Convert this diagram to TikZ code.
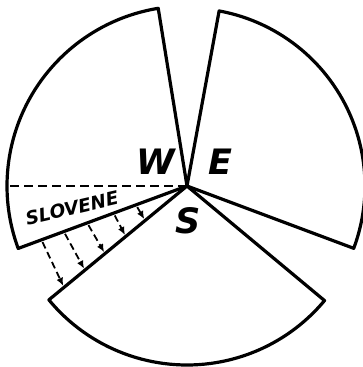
\documentclass[tikz,border=0pt]{standalone}
\usepackage{fontspec}
\setmainfont{DejaVu Sans}
\usetikzlibrary{arrows.meta}
\begin{document}
\begin{tikzpicture}[x=1pt,y=1pt,
  sector/.style={line width=3.2pt, line join=round},
  divider/.style={line width=2pt, dash pattern=on 9pt off 5pt},
  shiftarrow/.style={line width=1.8pt, dash pattern=on 7pt off 4pt, -{Latex[length=8pt,width=7pt]}},
  biglabel/.style={font=\fontsize{35}{35}\selectfont\bfseries\itshape, inner sep=0pt},
  smalllabel/.style={font=\fontsize{18.5}{18.5}\selectfont\bfseries\itshape, inner sep=0pt}]
\useasboundingbox (-187,-181) rectangle (175,186);
\coordinate (O) at (0,0);
% sectors
\draw[sector] (O) -- (99.2:180) arc[start angle=99.2, end angle=200.3, radius=180] -- cycle;
\draw[sector] (O) -- (79.6:178) arc[start angle=79.6, end angle=-20.5, radius=178] -- cycle;
\draw[sector] (O) -- (219.5:179) arc[start angle=219.5, end angle=320.2, radius=179] -- cycle;
% dashed divider
\coordinate (Wl) at (180:179);
\draw[divider] (O) -- (Wl);
% arrows
\foreach \i/\ra/\rb in {1/155/159, 2/131/132, 3/106/106, 4/78/79, 5/54/54}{
  \path (200.3:\ra) ++(290.3:2.5) coordinate (a\i);
  \path (219.5:\rb) ++(129.5:1.7) coordinate (b\i);
  \draw[shiftarrow] (a\i) -- (b\i);
}
% labels
\node[biglabel] (W) at (-31,24) {W};
\node[biglabel] (E) at (33,24) {E};
\node[biglabel] (S) at (1,-35) {S};
\node[smalllabel, rotate=13] (SL) at (-115,-22) {SLOVENE};
\end{tikzpicture}
\end{document}
